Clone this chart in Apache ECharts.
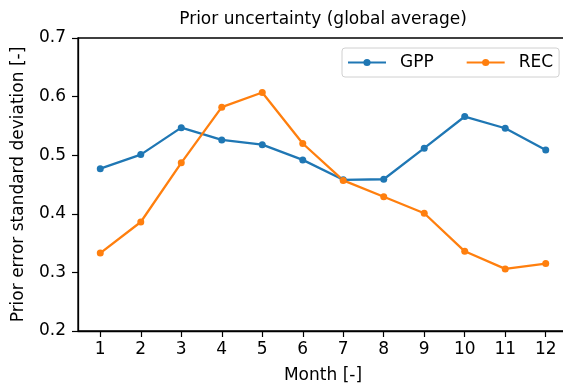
<!DOCTYPE html>
<html>
<head>
<meta charset="utf-8">
<script src="https://cdn.jsdelivr.net/npm/echarts@6/dist/echarts.min.js"></script>
<style>html,body{margin:0;padding:0;background:#fff}#c{width:563px;height:383px}</style>
</head>
<body>
<div id="c"></div>
<script>
const months = [1,2,3,4,5,6,7,8,9,10,11,12];
const gpp = [0.477,0.501,0.547,0.526,0.518,0.492,0.458,0.459,0.512,0.566,0.546,0.509];
const rec = [0.333,0.386,0.487,0.582,0.607,0.520,0.457,0.429,0.401,0.336,0.306,0.315];

const font = 'DejaVu Sans';
const fs = 17;
const chart = echarts.init(document.getElementById('c'), null, {renderer:'canvas'});
chart.setOption({
  animation:false,
  textStyle:{fontFamily:font},
  title:{text:'Prior uncertainty (global average)', left:323, top:11, textAlign:'center', padding:0,
    textStyle:{fontFamily:font,fontSize:fs,fontWeight:'normal',color:'#000'}},
  legend:{left:342, top:48, orient:'horizontal', padding:[6,6,6,5], itemWidth:38, itemHeight:9, itemGap:32,
    borderColor:'#d0d0d0', borderWidth:1, borderRadius:3,
    textStyle:{fontFamily:font,fontSize:fs,color:'#000',padding:[0,0,0,9]}},
  grid:{left:78, top:38, right:-5, bottom:52, show:true, borderColor:'#000', borderWidth:1.3,
    containLabel:false, outerBoundsMode:'none'},
  xAxis:{type:'value', min:0.45, max:12.55,
    name:'Month [-]', nameLocation:'middle', nameGap:36,
    nameTextStyle:{fontFamily:font,fontSize:fs,color:'#000'},
    axisLine:{show:true,lineStyle:{color:'#000',width:1.3}},
    axisTick:{show:true,length:6,inside:false,customValues:months,lineStyle:{color:'#000',width:1.2}},
    axisLabel:{customValues:months,fontFamily:font,fontSize:fs,color:'#000',margin:10,formatter:v=>String(v)},
    splitLine:{show:false}},
  yAxis:{type:'value', min:0.2, max:0.7, interval:0.1,
    name:'Prior error standard deviation [-]', nameLocation:'middle', nameGap:51,
    nameTextStyle:{fontFamily:font,fontSize:fs,color:'#000'},
    axisLine:{show:true,lineStyle:{color:'#000',width:1.3}},
    axisTick:{show:true,length:6,inside:false,lineStyle:{color:'#000',width:1.2}},
    axisLabel:{fontFamily:font,fontSize:fs,color:'#000',margin:12,formatter:v=>v.toFixed(1)},
    splitLine:{show:false}},
  series:[
    {name:'GPP', type:'line', data:months.map((m,i)=>[m,gpp[i]]), color:'#1f77b4',
      symbol:'circle', symbolSize:7, lineStyle:{width:2.3}, itemStyle:{color:'#1f77b4'}},
    {name:'REC', type:'line', data:months.map((m,i)=>[m,rec[i]]), color:'#ff7f0e',
      symbol:'circle', symbolSize:7, lineStyle:{width:2.3}, itemStyle:{color:'#ff7f0e'}}
  ]
});
</script>
</body>
</html>
